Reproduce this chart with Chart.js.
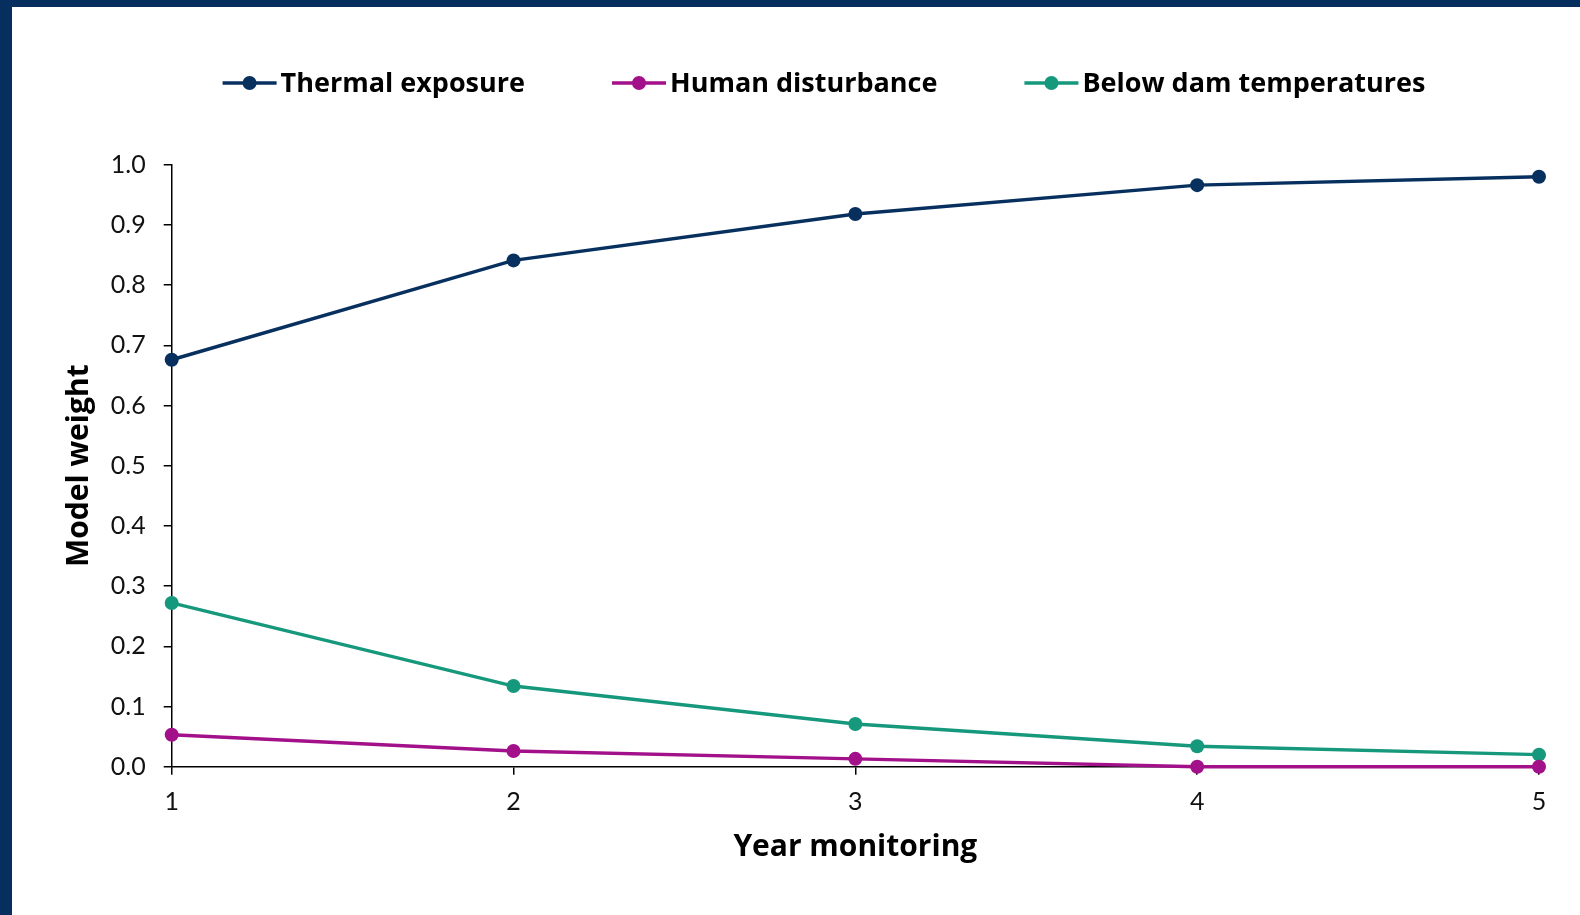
<!DOCTYPE html>
<html>
<head>
<meta charset="utf-8">
<script src="https://cdn.jsdelivr.net/npm/chart.js@4.4.1/dist/chart.umd.min.js"></script>
<style>
  html, body { margin: 0; padding: 0; background: #ffffff; }
  body { width: 1580px; height: 915px; overflow: hidden; position: relative; }
  #frameTop { position: absolute; left: 0; top: 0; width: 1580px; height: 7px; background: #062f60; }
  #frameLeft { position: absolute; left: 0; top: 0; width: 12px; height: 915px; background: #062f60; }
  #wrap { position: absolute; left: 12px; top: 7px; width: 1568px; height: 908px; }
</style>
</head>
<body>
<div id="frameTop"></div>
<div id="frameLeft"></div>
<div id="wrap"><canvas id="chart" width="1568" height="908"></canvas></div>
<script>
// Monitoring years and model weights for each candidate model
const years = ['1', '2', '3', '4', '5'];
const thermalExposure = [0.676, 0.841, 0.918, 0.966, 0.980];
const humanDisturbance = [0.053, 0.026, 0.013, 0.000, 0.000];
const belowDamTemps = [0.272, 0.134, 0.071, 0.034, 0.020];
const yTicks = [0.0, 0.1, 0.2, 0.3, 0.4, 0.5, 0.6, 0.7, 0.8, 0.9, 1.0];

const seriesNames = ['Thermal exposure', 'Human disturbance', 'Below dam temperatures'];
const seriesColors = ['#07305f', '#a3118a', '#15987b'];

const TICK_FONT = "Lato, 'Open Sans', sans-serif";
const BOLD_FONT = "'Open Sans', Lato, sans-serif";

function makeSet(label, data, color) {
  return {
    label, data,
    borderColor: color,
    backgroundColor: color,
    borderWidth: 3.4,
    pointRadius: 7,
    pointHoverRadius: 7,
    pointBorderWidth: 0,
    pointBackgroundColor: color,
    tension: 0,
    clip: false
  };
}

// Legend: line with a centred dot, followed by the bold label
const lineLegend = {
  id: 'lineLegend',
  afterDraw(chart) {
    const ctx = chart.ctx;
    const lineLen = 54, textGap = 4, itemGap = 87, cy = 76, centerX = 812;
    ctx.save();
    ctx.font = "bold 27px " + BOLD_FONT;
    const widths = seriesNames.map(n => ctx.measureText(n).width);
    const total = widths.reduce((a, w) => a + lineLen + textGap + w, 0) + itemGap * (seriesNames.length - 1);
    let x = centerX - total / 2;
    seriesNames.forEach((name, i) => {
      ctx.strokeStyle = seriesColors[i];
      ctx.fillStyle = seriesColors[i];
      ctx.lineWidth = 3.4;
      ctx.beginPath();
      ctx.moveTo(x, cy);
      ctx.lineTo(x + lineLen, cy);
      ctx.stroke();
      ctx.beginPath();
      ctx.arc(x + lineLen / 2, cy, 7, 0, Math.PI * 2);
      ctx.fill();
      ctx.fillStyle = '#000000';
      ctx.textBaseline = 'middle';
      ctx.textAlign = 'left';
      ctx.fillText(name, x + lineLen + textGap, cy + 1);
      x += lineLen + textGap + widths[i] + itemGap;
    });
    ctx.restore();
  }
};

new Chart(document.getElementById('chart'), {
  type: 'line',
  data: {
    labels: years,
    datasets: [
      makeSet(seriesNames[0], thermalExposure, seriesColors[0]),
      makeSet(seriesNames[1], humanDisturbance, seriesColors[1]),
      makeSet(seriesNames[2], belowDamTemps, seriesColors[2])
    ]
  },
  options: {
    responsive: false,
    animation: false,
    events: [],
    layout: { padding: { top: 157.7, right: 41, bottom: 0, left: 0 } },
    plugins: { legend: { display: false }, tooltip: { enabled: false } },
    scales: {
      x: {
        type: 'category',
        offset: false,
        afterFit(scale) { scale.height = 148.3; },
        grid: { drawOnChartArea: false, drawTicks: true, tickLength: 8, color: '#000000', lineWidth: 1.5 },
        border: { display: true, color: '#000000', width: 1.5 },
        ticks: { color: '#111111', padding: 12, font: { family: TICK_FONT, size: 25 } },
        title: {
          display: true, text: 'Year monitoring', color: '#000000',
          font: { family: BOLD_FONT, size: 30, weight: 'bold', lineHeight: 1.2 },
          padding: { top: 0, bottom: 50 }
        }
      },
      y: {
        min: 0, max: 1,
        afterFit(scale) { scale.width = 159.7; },
        afterBuildTicks(scale) { scale.ticks = yTicks.map(v => ({ value: v })); },
        grid: { drawOnChartArea: false, drawTicks: true, tickLength: 8, color: '#000000', lineWidth: 1.5 },
        border: { display: true, color: '#000000', width: 1.5 },
        ticks: {
          color: '#111111', padding: 18, font: { family: TICK_FONT, size: 25 },
          callback: v => Number(v).toFixed(1)
        },
        title: {
          display: true, text: 'Model weight', color: '#000000',
          font: { family: BOLD_FONT, size: 30, weight: 'bold', lineHeight: 1.2 },
          padding: { top: 49, bottom: 0 }
        }
      }
    }
  },
  plugins: [lineLegend]
});
</script>
</body>
</html>
